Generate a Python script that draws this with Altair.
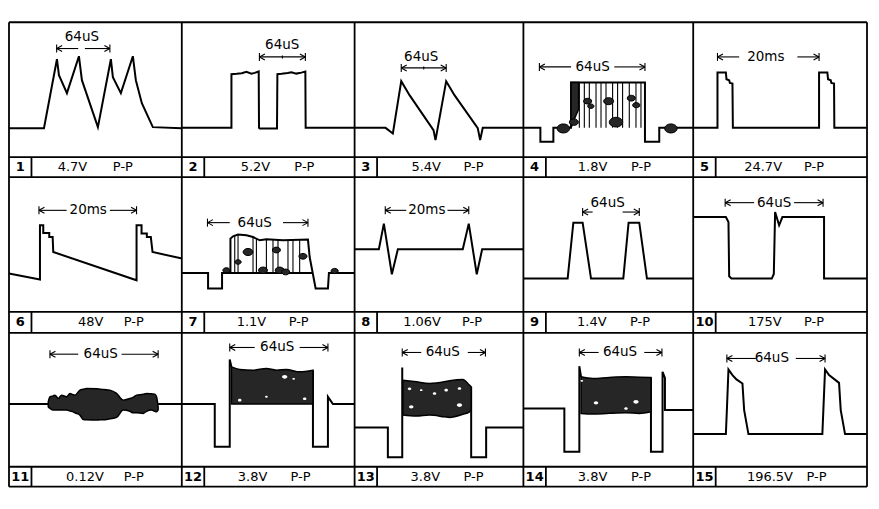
import altair as alt
import pandas as pd

# ================= DATA =================
panel_no = list(range(1, 16))
volts = ["4.7V", "5.2V", "5.4V", "1.8V", "24.7V",
         "48V", "1.1V", "1.06V", "1.4V", "175V",
         "0.12V", "3.8V", "3.8V", "3.8V", "196.5V"]
pp_text = "P-P"
span_text = ["64uS", "64uS", "64uS", "64uS", "20ms",
             "20ms", "64uS", "20ms", "64uS", "64uS",
             "64uS", "64uS", "64uS", "64uS", "64uS"]

# waveform traces: t = position across the panel, v = level in the panel
w1_t = [0, 35, 48, 50, 58, 70, 73, 89, 102, 104, 112, 124, 127, 133, 144, 173]
w1_v = [29, 29, 98, 82, 64, 101, 77, 30, 98, 80, 64, 101, 77, 54, 30, 29]

w2_t = [0, 49.7, 49.7, 55, 60, 64.7, 69.7, 73, 77, 77.3, 78, 95.3, 95.7, 100, 106, 109.7, 114.7, 119.7, 123.7, 124, 173]
w2_v = [29.3, 29.3, 83, 83.4, 84, 85.3, 83.6, 84.3, 85.7, 29.3, 28.7, 28.7, 83, 83.4, 84.3, 85, 83.6, 84.6, 85.7, 29.3, 29.3]

w3_t = [0, 31, 38.3, 46.7, 55, 79, 81, 91.7, 100, 123.3, 125.7, 128.3, 169]
w3_v = [29.3, 29.3, 23.7, 76, 62, 27, 17, 76, 62, 29, 17, 29.3, 29.3]

w4_t = [0, 17, 17, 30, 30, 47.7, 47.7, 121.7, 121.7, 136, 136, 170]
w4_v = [29.3, 29.3, 15.3, 15.3, 29.3, 29.3, 74.7, 74.7, 15.3, 15.3, 29.3, 29.3]
w4_bar_t = [56, 61, 66, 72.7, 77.7, 82.7, 89.3, 94.3, 99.3, 106, 112.7, 117.7]
w4_bar_lo = [29.3] * 12
w4_bar_hi = [74.7] * 12

w5_t = [0, 24.3, 24.3, 32.7, 33.3, 36, 36.7, 39.3, 39.7, 126, 126, 134.3, 135, 137.7, 138.3, 141, 141.3, 173.7]
w5_v = [29.3, 29.3, 84.7, 84.7, 78, 77, 74.3, 73.7, 29.3, 29.3, 84.7, 84.7, 78, 77, 74.3, 73.7, 29.3, 29.3]

w6_t = [0, 31, 31, 34.3, 34.3, 40.3, 40.3, 43.7, 44.3, 127.7, 127.7, 132.7, 132.7, 138, 138, 142, 143.7, 173.3]
w6_v = [38.4, 32.4, 86.7, 86.7, 79, 79, 75, 75, 60, 31.7, 86.7, 86.7, 78.4, 78.4, 75, 75, 60, 53.4]

w7_t = [0, 26.3, 26.3, 40.3, 40.3, 48.7, 48.7, 51.3, 56.3, 64.7, 71.3, 78, 84.7, 101.3, 126.3, 128, 134, 146.3, 147.3, 173]
w7_v = [39, 39, 23.4, 23.4, 39, 39, 73.4, 75.7, 77.4, 76.7, 75, 71.7, 72.7, 71.7, 72.4, 55, 23.4, 23.4, 39, 39]
w7b_t = [48.7, 131]
w7b_v = [39, 39]
w7_bar_t = [53, 56.3, 71.3, 74.7, 84.7, 91.3, 96.3, 106.3, 111.3, 118]
w7_bar_lo = [39] * 10
w7_bar_hi = [75.7, 77, 75, 74, 72.5, 72.3, 72, 72, 72, 72.2]

w8_t = [0, 24.3, 29.3, 37.3, 43.3, 108.3, 114.3, 122.3, 127.7, 169]
w8_v = [62.7, 62.7, 88.4, 37.7, 62.7, 62.7, 88.4, 37.7, 62.7, 62.7]

w9_t = [0, 44.3, 50, 59.3, 67.7, 100, 105.3, 116, 123.7, 170]
w9_v = [33.4, 33.4, 89.4, 89.4, 33.4, 33.4, 89.4, 89.4, 33.4, 33.4]

w10_t = [0, 32.7, 35.3, 36, 38.3, 78.7, 80.7, 82, 86, 89.3, 131, 131, 174]
w10_v = [95, 95, 90, 35.7, 33.4, 33.4, 38, 100, 86.7, 95, 95, 33.4, 33.4]

w11_t = [0, 173]
w11_v = [62.7, 62.7]

w12a_t = [0, 33, 33, 48, 48, 49.7]
w12a_v = [62.7, 62.7, 20, 20, 107.4, 100]
w12b_t = [131.3, 131.3, 146.3, 146.3, 151.3, 173]
w12b_v = [96.7, 20, 20, 70, 62.7, 62.7]

w13a_t = [0, 33.3, 33.3, 47.7, 47.7]
w13a_v = [39.4, 39.4, 9.4, 9.4, 99.4]
w13b_t = [116.7, 116.7, 131.7, 131.7, 169]
w13b_v = [80, 9.4, 9.4, 39.4, 39.4]

w14a_t = [0, 41, 41, 56, 56, 57.7]
w14a_v = [58.4, 58.4, 15, 15, 100.7, 90]
w14b_t = [127.7, 127.7, 139.3, 139.3, 141.7, 141.7, 170]
w14b_v = [89.4, 15, 15, 95, 89, 56.7, 56.7]

w15_t = [0, 32.7, 33.7, 35.3, 39.3, 43.3, 49.3, 51, 55.3, 129.3, 130.3, 132, 136, 146, 147.7, 152, 173.7]
w15_v = [32.7, 32.7, 56.7, 97.4, 91.7, 87.4, 83.4, 56.7, 32.7, 32.7, 56.7, 97.4, 91.7, 84, 56.7, 32.7, 32.7]

# shaded (noise-filled) regions: t, upper edge, lower edge
s4_t = [47.7, 51, 55.3]
s4_hi = [74.7, 74.7, 74.7]
s4_lo = [29.3, 38, 48]

s11_t = [39.3, 41, 44.3, 46, 49.3, 52.7, 57.7, 61, 64.3, 66, 71, 74.3, 77.7, 87.7, 91, 97.7, 101, 107.7,
         114.3, 121, 124.3, 127.7, 134.3, 137.7, 142.7, 146, 147.7, 149.3]
s11_hi = [65, 70, 71, 71.7, 68.4, 71.7, 70, 73.4, 72, 71.7, 76.7, 77.5, 78.4, 78, 77.7, 77, 76.7, 73.4,
          66.7, 68.4, 69.5, 71.7, 72.5, 73.4, 73, 72.7, 70, 60]
s11_lo = [60, 58.5, 56.7, 56.7, 56.7, 56.7, 56.7, 55.8, 55, 54, 51.7, 47.4, 47, 46.7, 47, 47.4, 48, 49.4,
          56.7, 55.5, 54, 54, 53.4, 55.5, 56.7, 55.5, 55, 57]

s12_t = [49.7, 58, 71.3, 84.7, 94.7, 104.7, 118, 131.3]
s12_hi = [100, 97.4, 96.7, 98.4, 96.7, 97.4, 95, 96.7]
s12_lo = [62.7] * 8

s13_t = [48.3, 61.7, 75, 90, 95, 108.3, 115, 116.7]
s13_hi = [86.7, 85, 83.4, 85, 86, 87.4, 81.7, 80]
s13_lo = [51.7, 50.7, 51.7, 50, 49.4, 52.5, 55, 56.7]

s14_t = [57.7, 69.3, 86, 102.7, 116, 127.7]
s14_hi = [90, 88.4, 89.4, 90, 89.6, 89.4]
s14_lo = [53.4, 52.7, 53.5, 54, 53.4, 55]

# noise blobs (t, v, diameter)
b4_t = [40, 50.5, 64.3, 67.5, 85.3, 92.7, 108, 113, 147.7]
b4_v = [28.7, 35, 56, 51, 56, 35, 59, 52, 28.7]
b4_d = [14, 10, 9, 7, 11, 15, 9, 8, 14]
b7_t = [44.7, 56.3, 66.3, 81.3, 94.7, 98, 104, 121.3, 153]
b7_v = [41.7, 50, 60, 41.7, 62, 41.7, 40, 55.7, 41]
b7_d = [8, 7, 11, 10, 9, 10, 9, 9, 8]
# light gaps inside the dark regions (t, v, diameter)
h12_t = [58, 84.7, 103, 112, 123]
h12_v = [66.7, 70, 90, 88, 68]
h12_d = [4, 3, 6, 3, 4]
h13_t = [55, 56.7, 66.7, 80, 91.7, 105, 105]
h13_v = [78, 60, 76.7, 73.4, 76.7, 78.4, 61.7]
h13_d = [4, 5, 3, 4, 4, 4, 6]
h14_t = [72.7, 102.7, 112.7, 58.5]
h14_v = [64, 58.4, 65, 86]
h14_d = [5, 4, 6, 3]

# time-span markers (start, end, level)
span_t0 = [47.7, 77.7, 46.7, 16, 24.3, 30, 25.7, 30.7, 59.3, 32, 41, 48, 47.7, 56, 33.7]
span_t1 = [101, 123.7, 91.7, 121.7, 126, 127.7, 126.3, 114.3, 116, 130, 149.3, 146.3, 131, 138.7, 132]
span_v = [108.7, 100.3, 89.3, 90.3, 100.3, 101.7, 89.4, 101.7, 100, 109.4, 112.7, 119.4, 114.4, 114.4, 108.4]
span_gap0 = [69.3, None, None, 47.7, 46, 57.7, 48, 51.7, 69.3, 61, 69.3, 73, 66.7, 75.3, 62.7]
span_gap1 = [76, None, None, 91, 104.3, 101, 101.3, 93, 99.3, 101, 112.7, 118, 113.3, 121, 102.7]

# ================= LAYOUT =================
COL_X = [0, 173, 346, 515, 685, 859]
ROW_Y = [465, 330, 310, 175, 154, 20, 0]
LABEL_TOP = [330, 175, 20]
LABEL_BOT = [310, 154, 0]
BOX_W = 22.5
span_text_t = [73, 100.5, 66.7, 69.3, 72.7, 79.3, 73, 72.3, 84.3, 81, 91.8, 95.5, 88.3, 96.7, 78.7]
span_text_v = [120, 112, 100.3, 90.3, 100.3, 101.7, 89.4, 101.7, 109.4, 109.4, 112.7, 119.4, 114.4, 114.4, 108.4]
volt_x = [63.5, 73.7, 71.7, 69.3, 70, 81.8, 69.7, 67.5, 68.5, 71.8, 76, 70.8, 70.8, 69.3, 76.8]
pp_x = [114, 122.7, 119, 117.7, 121, 125, 117, 117.5, 116.8, 121, 125, 118.8, 119, 117.7, 123.5]
ELLIPSE = "M -1 0 A 1 0.72 0 1 0 1 0 A 1 0.72 0 1 0 -1 0 Z"

traces = {
    1: [(w1_t, w1_v)], 2: [(w2_t, w2_v)], 3: [(w3_t, w3_v)], 4: [(w4_t, w4_v)],
    5: [(w5_t, w5_v)], 6: [(w6_t, w6_v)], 7: [(w7_t, w7_v), (w7b_t, w7b_v)],
    8: [(w8_t, w8_v)], 9: [(w9_t, w9_v)], 10: [(w10_t, w10_v)], 11: [(w11_t, w11_v)],
    12: [(w12a_t, w12a_v), (w12b_t, w12b_v)], 13: [(w13a_t, w13a_v), (w13b_t, w13b_v)],
    14: [(w14a_t, w14a_v), (w14b_t, w14b_v)], 15: [(w15_t, w15_v)],
}
shades = {4: (s4_t, s4_hi, s4_lo), 11: (s11_t, s11_hi, s11_lo), 12: (s12_t, s12_hi, s12_lo),
          13: (s13_t, s13_hi, s13_lo), 14: (s14_t, s14_hi, s14_lo)}
bars = {4: (w4_bar_t, w4_bar_lo, w4_bar_hi), 7: (w7_bar_t, w7_bar_lo, w7_bar_hi)}
blobs = {4: (b4_t, b4_v, b4_d), 7: (b7_t, b7_v, b7_d)}
holes = {12: (h12_t, h12_v, h12_d), 13: (h13_t, h13_v, h13_d), 14: (h14_t, h14_v, h14_d)}


def origin(p):
    r, c = divmod(p - 1, 5)
    return COL_X[c], LABEL_TOP[r], r, c


# ---- tables ----
line_rows = []
for p, segs in traces.items():
    ox, oy, _, _ = origin(p)
    for k, (ts, vs) in enumerate(segs):
        for i, (t, v) in enumerate(zip(ts, vs)):
            line_rows.append({"x": ox + t, "y": oy + v, "seg": f"{p}-{k}", "i": i})
lines_df = pd.DataFrame(line_rows)

area_rows = []
for p, (ts, his, los) in shades.items():
    ox, oy, _, _ = origin(p)
    for t, hi, lo in zip(ts, his, los):
        area_rows.append({"x": ox + t, "y": oy + hi, "y2": oy + lo, "shape": str(p)})
area_df = pd.DataFrame(area_rows)

bar_rows = []
for p, (ts, los, his) in bars.items():
    ox, oy, _, _ = origin(p)
    for t, lo, hi in zip(ts, los, his):
        bar_rows.append({"x": ox + t, "x2": ox + t, "y": oy + lo, "y2": oy + hi})
bars_df = pd.DataFrame(bar_rows)


def dots(src):
    rows = []
    for p, (ts, vs, ds) in src.items():
        ox, oy, _, _ = origin(p)
        for t, v, d in zip(ts, vs, ds):
            rows.append({"x": ox + t, "y": oy + v, "s": 0.8 * d * d})
    return pd.DataFrame(rows)


blob_df = dots(blobs)
hole_df = dots(holes)

grid_rows = []
for x in COL_X:
    grid_rows.append({"x": x, "x2": x, "y": 0, "y2": 465})
for y in ROW_Y:
    grid_rows.append({"x": 0, "x2": 859, "y": y, "y2": y})
for p in panel_no:
    ox, oy, r, c = origin(p)
    grid_rows.append({"x": ox + BOX_W, "x2": ox + BOX_W, "y": LABEL_BOT[r], "y2": LABEL_TOP[r]})
grid_df = pd.DataFrame(grid_rows)

arrow_rows = []
AH_L, AH_H, BAR_H = 5.5, 3, 4
for idx, p in enumerate(panel_no):
    ox, oy, _, _ = origin(p)
    t0, t1, v = ox + span_t0[idx], ox + span_t1[idx], oy + span_v[idx]
    g0, g1 = span_gap0[idx], span_gap1[idx]
    if g0 is None:
        arrow_rows.append({"x": t0, "x2": t1, "y": v, "y2": v})
        tm = (t0 + t1) / 2
        arrow_rows.append({"x": tm, "x2": tm, "y": v - 1.5, "y2": v + 1.5})
    else:
        arrow_rows.append({"x": t0, "x2": ox + g0, "y": v, "y2": v})
        arrow_rows.append({"x": ox + g1, "x2": t1, "y": v, "y2": v})
    for te, sgn in ((t0, 1), (t1, -1)):
        arrow_rows.append({"x": te, "x2": te, "y": v - BAR_H, "y2": v + BAR_H})
        arrow_rows.append({"x": te, "x2": te + sgn * AH_L, "y": v, "y2": v + AH_H})
        arrow_rows.append({"x": te, "x2": te + sgn * AH_L, "y": v, "y2": v - AH_H})
arrow_df = pd.DataFrame(arrow_rows)

span_rows, num_rows, lab_rows = [], [], []
for idx, p in enumerate(panel_no):
    ox, oy, r, c = origin(p)
    span_rows.append({"x": ox + span_text_t[idx], "y": oy + span_text_v[idx], "txt": span_text[idx]})
    ym = (LABEL_TOP[r] + LABEL_BOT[r]) / 2
    num_rows.append({"x": ox + BOX_W / 2, "y": ym, "txt": str(p)})
    lab_rows.append({"x": ox + volt_x[idx], "y": ym, "txt": volts[idx]})
    lab_rows.append({"x": ox + pp_x[idx], "y": ym, "txt": pp_text})
span_df = pd.DataFrame(span_rows)
num_df = pd.DataFrame(num_rows)
lab_df = pd.DataFrame(lab_rows)

# ---- chart ----
xs = alt.Scale(domain=[0, 859], nice=False, zero=False)
ys = alt.Scale(domain=[0, 465], nice=False, zero=False)
X = lambda f="x": alt.X(f"{f}:Q", scale=xs, axis=None)
Y = lambda f="y": alt.Y(f"{f}:Q", scale=ys, axis=None)
FONT = "DejaVu Sans"
DARK = "#262626"

wave = alt.Chart(lines_df).mark_line(color="black", strokeWidth=2, strokeJoin="miter").encode(
    x=X(), y=Y(), detail="seg:N", order="i:Q")
shade = alt.Chart(area_df).mark_area(color=DARK, stroke="black", strokeWidth=1.5,
                                     interpolate="monotone").encode(
    x=X(), y=Y(), y2="y2:Q", detail="shape:N")
bar_l = alt.Chart(bars_df).mark_rule(color="black", strokeWidth=1.1).encode(
    x=X(), x2="x2:Q", y=Y(), y2="y2:Q")
blob_l = alt.Chart(blob_df).mark_point(shape=ELLIPSE, filled=True, color=DARK, opacity=1,
                                       stroke="black", strokeWidth=1).encode(
    x=X(), y=Y(), size=alt.Size("s:Q", scale=None, legend=None))
hole_l = alt.Chart(hole_df).mark_point(shape=ELLIPSE, filled=True, color="white", opacity=1).encode(
    x=X(), y=Y(), size=alt.Size("s:Q", scale=None, legend=None))
arrows = alt.Chart(arrow_df).mark_rule(color="black", strokeWidth=1.1).encode(
    x=X(), x2="x2:Q", y=Y(), y2="y2:Q")
grid = alt.Chart(grid_df).mark_rule(color="black", strokeWidth=1.8).encode(
    x=X(), x2="x2:Q", y=Y(), y2="y2:Q")
span_l = alt.Chart(span_df).mark_text(font=FONT, fontSize=13.5, color="black",
                                      align="center", baseline="middle").encode(
    x=X(), y=Y(), text="txt:N")
num_l = alt.Chart(num_df).mark_text(font=FONT, fontSize=13, fontWeight="bold", color="black",
                                    align="center", baseline="middle").encode(
    x=X(), y=Y(), text="txt:N")
lab_l = alt.Chart(lab_df).mark_text(font=FONT, fontSize=13, color="black",
                                    align="center", baseline="middle").encode(
    x=X(), y=Y(), text="txt:N")

chart = alt.layer(wave, shade, bar_l, blob_l, hole_l, arrows, grid, span_l, num_l, lab_l).properties(
    width=859, height=465,
    padding={"left": 1, "top": 14, "right": 4, "bottom": 4},
    autosize=alt.AutoSizeParams(type="none"),
    background="white",
).configure_view(strokeWidth=0)

chart.save("out.html", embed_options={"renderer": "svg", "actions": False})
